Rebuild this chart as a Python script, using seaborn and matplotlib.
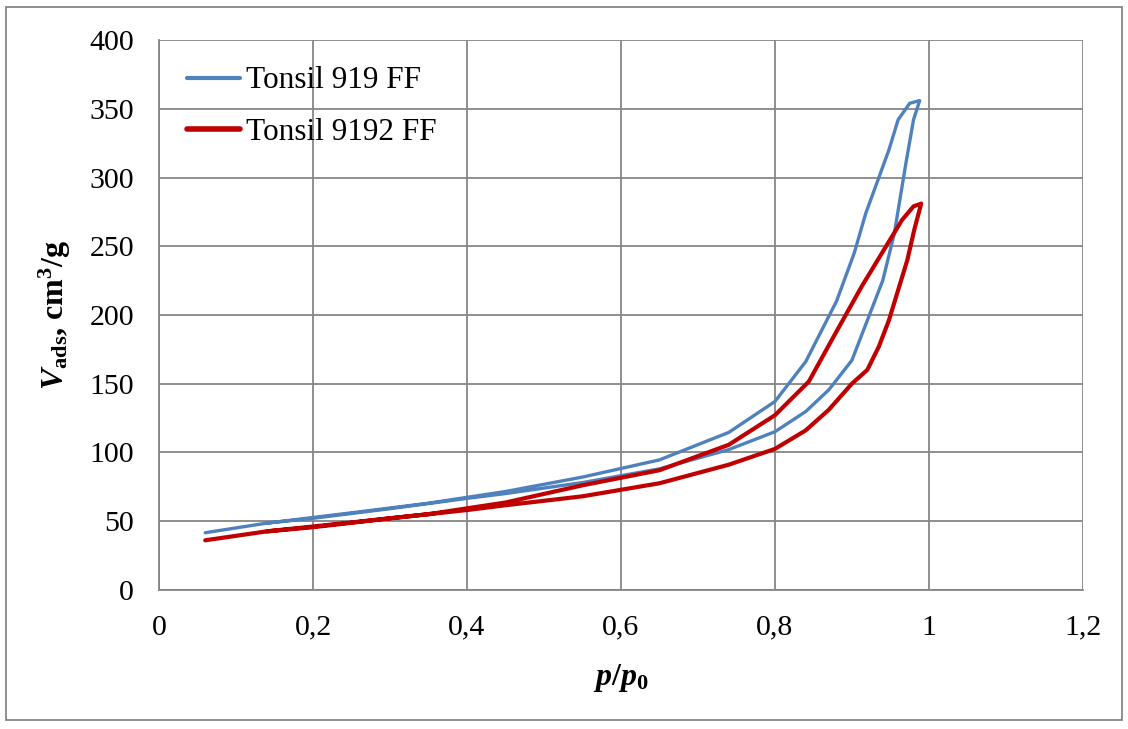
import pandas as pd
import seaborn as sns
import matplotlib.pyplot as plt
from matplotlib.patches import Rectangle

# Tonsil 919 FF: adsorption branch then desorption branch
x_919 = [0.06, 0.14, 0.2, 0.3, 0.4, 0.45, 0.55, 0.65, 0.74, 0.80, 0.84, 0.87, 0.90, 0.92, 0.94, 0.955, 0.97, 0.98, 0.988,
         0.975, 0.96, 0.948, 0.935, 0.918, 0.903, 0.88, 0.84, 0.80, 0.74, 0.65, 0.55, 0.45, 0.35, 0.25, 0.14]
v_919 = [41.5, 48.5, 52, 59, 66.5, 70, 78, 88, 102, 115, 129.7, 145.5, 167, 196, 225, 259, 310, 342, 356,
         354, 342, 320, 300, 274, 245, 210, 166, 137, 114.5, 94.5, 82, 71.5, 63, 56, 48.5]

# Tonsil 9192 FF: adsorption branch then desorption branch
x_9192 = [0.06, 0.14, 0.2, 0.3, 0.4, 0.45, 0.55, 0.65, 0.74, 0.80, 0.84, 0.87, 0.90, 0.92, 0.935, 0.948, 0.96, 0.972, 0.981, 0.99,
          0.98, 0.965, 0.952, 0.939, 0.913, 0.896, 0.879, 0.844, 0.80, 0.74, 0.65, 0.55, 0.45, 0.35, 0.25, 0.14]
v_9192 = [36, 42.5, 45.5, 52, 58, 61.5, 68, 77.5, 91, 102.5, 116, 131, 150, 160, 177, 196, 218, 240, 262, 281,
          279, 269, 257, 245, 221, 204, 187, 151.5, 127, 105.5, 87, 76, 63.5, 55, 49, 42.5]

labels = ["Tonsil 919 FF", "Tonsil 9192 FF"]
x_ticks = [0, 0.2, 0.4, 0.6, 0.8, 1.0, 1.2]
x_tick_labels = ["0", "0,2", "0,4", "0,6", "0,8", "1", "1,2"]
y_ticks = [0, 50, 100, 150, 200, 250, 300, 350, 400]

df = pd.concat([
    pd.DataFrame({"p": x_919, "V": v_919, "sample": labels[0]}),
    pd.DataFrame({"p": x_9192, "V": v_9192, "sample": labels[1]}),
], ignore_index=True)

sns.set_style("white")
plt.rcParams["font.family"] = ["Liberation Serif", "DejaVu Serif"]
plt.rcParams["text.color"] = "black"
plt.rcParams["axes.labelcolor"] = "black"
plt.rcParams["xtick.color"] = "black"
plt.rcParams["ytick.color"] = "black"
plt.rcParams["mathtext.fontset"] = "custom"
plt.rcParams["mathtext.it"] = "Liberation Serif:italic:bold"
plt.rcParams["mathtext.rm"] = "Liberation Serif:bold"
plt.rcParams["mathtext.bf"] = "Liberation Serif:bold"

fig = plt.figure(figsize=(11.28, 7.29), dpi=100)
ax = fig.add_axes([0.141, 0.191, 0.819, 0.754])

sns.lineplot(data=df, x="p", y="V", hue="sample", sort=False, estimator=None,
             palette={labels[0]: "#4F81BD", labels[1]: "#C00000"}, ax=ax)
ax.lines[0].set_linewidth(2.4)
ax.lines[1].set_linewidth(3.0)

ax.set_xlim(0, 1.2)
ax.set_ylim(0, 400)
ax.set_xticks(x_ticks)
ax.set_xticklabels(x_tick_labels)
ax.set_yticks(y_ticks)
ax.tick_params(labelsize=21.5, direction="out", length=5, color="#868686", width=1.3, pad=13)
ax.grid(True, color="#868686", linewidth=1.3)
for side in ["top", "right"]:
    ax.spines[side].set_visible(False)
for side in ["left", "bottom"]:
    ax.spines[side].set_color("#868686")
    ax.spines[side].set_linewidth(1.3)

ax.set_xlabel(r"$p$/$p_{\mathrm{0}}$", fontsize=23, fontweight="bold", labelpad=15)
ax.set_ylabel(r"$V_{\mathrm{ads}}$, cm$^{\mathrm{3}}$/g", fontsize=23, fontweight="bold", labelpad=12)

leg = ax.legend(loc="upper left", bbox_to_anchor=(0.030, 0.952), frameon=False,
                borderpad=0, borderaxespad=0,
                fontsize=22.5, handlelength=1.7, handletextpad=0.2, labelspacing=0.72)
leg.get_lines()[0].set_linewidth(3.0)
leg.get_lines()[1].set_linewidth(4.0)

fig.patches.append(Rectangle((0.005, 0.012), 0.99, 0.978, transform=fig.transFigure,
                             fill=False, edgecolor="#868686", linewidth=1.3))

fig.savefig("out.png", dpi=100)
